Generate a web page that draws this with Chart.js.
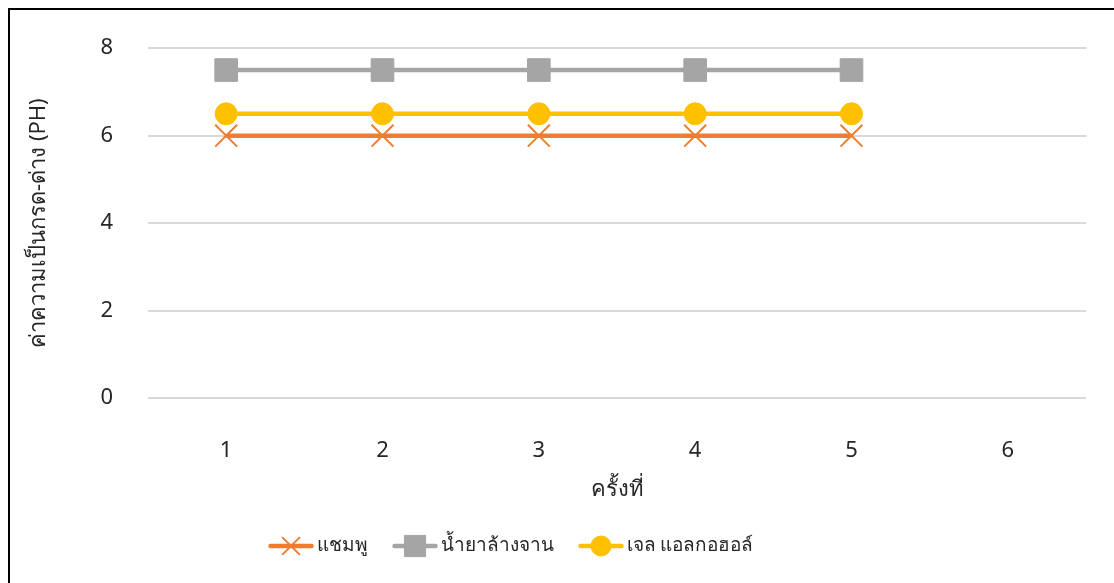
<!DOCTYPE html>
<html>
<head>
<meta charset="utf-8">
<script src="https://cdn.jsdelivr.net/npm/chart.js@4/dist/chart.umd.min.js"></script>
<style>
  html, body { margin: 0; padding: 0; background: #fff; }
  .wrap { position: relative; width: 1114px; height: 583px; overflow: hidden; }
  .frame { position: absolute; left: 8px; top: 8px; width: 1200px; height: 700px;
           border-left: 2px solid #000; border-top: 2px solid #000; pointer-events: none; }
  canvas { position: absolute; left: 0; top: 0; }
</style>
</head>
<body>
<div class="wrap">
  <canvas id="phChart" width="1114" height="583"></canvas>
  <div class="frame"></div>
</div>
<script>
// data
const rounds = ["1", "2", "3", "4", "5", "6"];
const shampoo = [6, 6, 6, 6, 6, null];
const dishSoap = [7.5, 7.5, 7.5, 7.5, 7.5, null];
const alcoholGel = [6.5, 6.5, 6.5, 6.5, 6.5, null];
const yTicks = [0, 2, 4, 6, 8];

const FONT = "'Noto Sans', 'Open Sans', sans-serif";
const TEXT = "#262626";

// legend under the axis title: line with the marker in the middle
const lineLegend = {
    id: "lineLegend",
    afterDraw(chart) {
        const ctx = chart.ctx;
        const y = 546;
        const seg = 45;
        const textOff = 48;
        const gap = 25;
        ctx.save();
        ctx.font = "19px " + FONT;
        ctx.textBaseline = "middle";
        const items = chart.data.datasets.map(ds => ({ ds, w: textOff + ctx.measureText(ds.label).width }));
        const total = items.reduce((a, it) => a + it.w, 0) + gap * (items.length - 1);
        let x = 511 - total / 2;
        items.forEach(it => {
            const ds = it.ds;
            ctx.strokeStyle = ds.borderColor;
            ctx.lineWidth = 4.5;
            ctx.lineCap = "round";
            ctx.beginPath();
            ctx.moveTo(x + 2, y);
            ctx.lineTo(x + seg - 2, y);
            ctx.stroke();

            ctx.lineCap = "butt";
            ctx.fillStyle = ds.pointBackgroundColor;
            ctx.strokeStyle = ds.pointBorderColor;
            ctx.lineWidth = ds.pointBorderWidth;
            Chart.helpers.drawPoint(ctx, {
                pointStyle: ds.pointStyle,
                radius: ds.legendRadius,
                borderWidth: ds.pointBorderWidth,
                rotation: 0
            }, x + seg / 2, y);

            ctx.fillStyle = TEXT;
            ctx.textAlign = "left";
            ctx.fillText(ds.label, x + textOff, y);
            x += it.w + gap;
        });
        ctx.restore();
    }
};

const ctx = document.getElementById("phChart").getContext("2d");

new Chart(ctx, {
    type: "line",
    data: {
        labels: rounds,
        datasets: [
            {
                label: "แชมพู",
                data: shampoo,
                borderColor: "#ED7D31",
                borderWidth: 4.5,
                pointStyle: "crossRot",
                pointRadius: 15.5,
                legendRadius: 12.5,
                pointBorderWidth: 2,
                pointBorderColor: "#ED7D31",
                pointBackgroundColor: "#ED7D31",
                order: 3
            },
            {
                label: "น้ำยาล้างจาน",
                data: dishSoap,
                borderColor: "#A5A5A5",
                borderWidth: 4.5,
                pointStyle: "rect",
                pointRadius: 16,
                legendRadius: 15,
                pointBorderWidth: 1,
                pointBorderColor: "#A5A5A5",
                pointBackgroundColor: "#A5A5A5",
                order: 2
            },
            {
                label: "เจล แอลกอฮอล์",
                data: alcoholGel,
                borderColor: "#FFC000",
                borderWidth: 4.5,
                pointStyle: "circle",
                pointRadius: 11,
                legendRadius: 10,
                pointBorderWidth: 1,
                pointBorderColor: "#FFC000",
                pointBackgroundColor: "#FFC000",
                order: 1
            }
        ]
    },
    options: {
        responsive: false,
        animation: false,
        layout: { padding: { top: 40, right: 28, bottom: 70, left: 0 } },
        plugins: {
            legend: { display: false },
            tooltip: { enabled: false }
        },
        scales: {
            y: {
                min: 0,
                max: 8,
                afterFit: s => { s.width = 148; },
                afterBuildTicks: s => { s.ticks = yTicks.map(v => ({ value: v })); },
                border: { display: false },
                grid: { color: "#D9D9D9", lineWidth: 2, drawTicks: false },
                ticks: { color: TEXT, padding: 35, font: { family: FONT, size: 22 } },
                title: {
                    display: true,
                    text: "ค่าความเป็นกรด-ด่าง (PH)",
                    color: TEXT,
                    font: { family: FONT, size: 22 },
                    padding: { top: 26 }
                }
            },
            x: {
                offset: true,
                afterFit: s => { s.height = 115; },
                border: { display: false },
                grid: { display: false },
                ticks: { color: TEXT, padding: 32, font: { family: FONT, size: 22 } },
                title: {
                    display: true,
                    text: "ครั้งที่",
                    color: TEXT,
                    font: { family: FONT, size: 22 },
                    padding: { bottom: 10 }
                }
            }
        }
    },
    plugins: [lineLegend]
});
</script>
</body>
</html>
